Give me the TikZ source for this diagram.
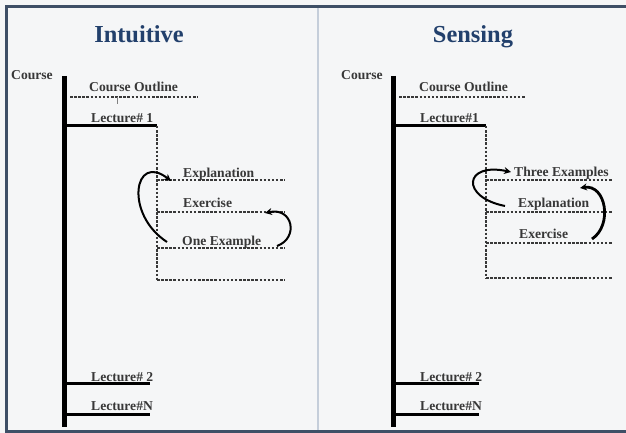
\documentclass[tikz,border=0pt]{standalone}
\usepackage{fontspec}
\setmainfont{Liberation Serif}
\usetikzlibrary{arrows.meta}
\definecolor{bgc}{HTML}{F5F6F7}
\definecolor{framec}{HTML}{3E4F66}
\definecolor{divc}{HTML}{C5CEDA}
\definecolor{titlec}{HTML}{22406C}
\definecolor{txtc}{HTML}{383838}
\begin{document}
\begin{tikzpicture}[x=1pt,y=-1pt,
  title/.style={font=\bfseries\fontsize{24.4}{28}\selectfont, text=titlec, anchor=base, inner sep=0},
  lbl/.style={font=\bfseries\fontsize{13.6}{16}\selectfont, text=txtc, anchor=base west, inner sep=0},
  bar/.style={line width=5pt, black},
  lec/.style={line width=3pt, black},
  dsh/.style={line width=1.3pt, txtc, dash pattern=on 2.5pt off 1.6pt},
  curv/.style={line width=2pt, black, -{Stealth[length=7pt,width=7pt]}},
]
\useasboundingbox (0,0) rectangle (626,433);
\clip (0,0) rectangle (626,433);
\fill[bgc] (0,0) rectangle (626,433);
\draw[framec, line width=3pt] (6.5,6.5) rectangle (640,431);
\draw[divc, line width=2pt] (318,8) -- (318,429.5);

% ---------- Left panel ----------
\node[title] (t1) at (139,43) {Intuitive};
\node[lbl] (c1) at (11,80) {Course};
\coordinate (b1t) at (64,76);
\coordinate (b1b) at (64,427);
\draw[bar] (b1t) -- (b1b);
\node[lbl] (co1) at (89,91.5) {Course Outline};
\coordinate (co1a) at (70,97); \coordinate (co1b) at (198,97);
\draw[dsh] (co1a) -- (co1b);
\coordinate (tk1a) at (117,97.5); \coordinate (tk1b) at (117,104);
\draw[gray, line width=0.7pt] (tk1a) -- (tk1b);
\node[lbl] (l11) at (91,123) {Lecture\# 1};
\coordinate (l11a) at (64,126); \coordinate (l11b) at (157,126);
\draw[lec] (l11a) -- (l11b);
\coordinate (v1b) at (157,280);
\draw[dsh] (l11b) -- (v1b);
\coordinate (h1a) at (157,180); \coordinate (h1b) at (285,180);
\coordinate (h2a) at (157,212); \coordinate (h2b) at (285,212);
\coordinate (h3a) at (157,248); \coordinate (h3b) at (285,248);
\coordinate (h4b) at (285,280);
\draw[dsh] (h1a) -- (h1b);
\draw[dsh] (h2a) -- (h2b);
\draw[dsh] (h3a) -- (h3b);
\draw[dsh] (v1b) -- (h4b);
\node[lbl] (ex1) at (183,177) {Explanation};
\node[lbl] (er1) at (183,207) {Exercise};
\node[lbl] (oe1) at (182,245) {One Example};
\coordinate (a1s) at (167,242); \coordinate (a1e) at (171,181);
\draw[curv] (a1s) .. controls (124,214) and (134,152) .. (a1e);
\coordinate (a2s) at (277,246); \coordinate (a2e) at (265,213);
\draw[curv] (a2s) .. controls (299,238) and (293,207) .. (a2e);
\node[lbl] (l21) at (91,381.5) {Lecture\# 2};
\coordinate (l21a) at (64,383); \coordinate (l21b) at (150,383);
\draw[lec] (l21a) -- (l21b);
\node[lbl] (ln1) at (91,410.5) {Lecture\#N};
\coordinate (ln1a) at (64,414); \coordinate (ln1b) at (150,414);
\draw[lec] (ln1a) -- (ln1b);

% ---------- Right panel ----------
\node[title] (t2) at (473,43) {Sensing};
\node[lbl] (c2) at (341,80) {Course};
\coordinate (b2t) at (393,76);
\coordinate (b2b) at (393,427);
\draw[bar] (b2t) -- (b2b);
\node[lbl] (co2) at (419,91.5) {Course Outline};
\coordinate (co2a) at (399,97); \coordinate (co2b) at (526,97);
\draw[dsh] (co2a) -- (co2b);
\node[lbl] (l12) at (420,123) {Lecture\#1};
\coordinate (l12a) at (393,126); \coordinate (l12b) at (486,126);
\draw[lec] (l12a) -- (l12b);
\coordinate (v2b) at (486,278);
\draw[dsh] (l12b) -- (v2b);
\coordinate (g1a) at (486,180); \coordinate (g1b) at (613,180);
\coordinate (g2a) at (486,212); \coordinate (g2b) at (613,212);
\coordinate (g3a) at (486,243); \coordinate (g3b) at (613,243);
\coordinate (g4b) at (613,278);
\draw[dsh] (g1a) -- (g1b);
\draw[dsh] (g2a) -- (g2b);
\draw[dsh] (g3a) -- (g3b);
\draw[dsh] (v2b) -- (g4b);
\node[lbl] (te2) at (514,176.5) {Three Examples};
\node[lbl] (ex2) at (518,207) {Explanation};
\node[lbl] (er2) at (519,238) {Exercise};
\coordinate (a3s) at (505,206); \coordinate (a3e) at (511,172);
\draw[curv] (a3s) .. controls (460,197) and (464,162) .. (a3e);
\coordinate (a4s) at (592,239); \coordinate (a4e) at (580,188);
\draw[curv, line width=2.8pt] (a4s) .. controls (613,225) and (606,184) .. (a4e);
\node[lbl] (l22) at (420,381.5) {Lecture\# 2};
\coordinate (l22a) at (393,383); \coordinate (l22b) at (479,383);
\draw[lec] (l22a) -- (l22b);
\node[lbl] (ln2) at (420,410.5) {Lecture\#N};
\coordinate (ln2a) at (393,414); \coordinate (ln2b) at (479,414);
\draw[lec] (ln2a) -- (ln2b);
\end{tikzpicture}
\end{document}
